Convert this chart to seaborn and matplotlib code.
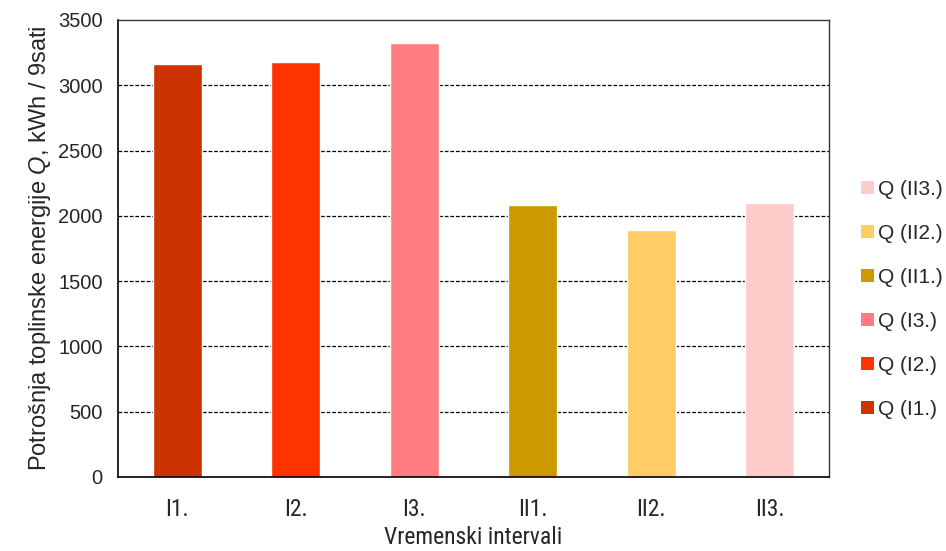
import matplotlib
matplotlib.use("Agg")
import matplotlib.pyplot as plt
import seaborn as sns
import pandas as pd
from matplotlib.patches import Patch

# Heat energy consumption per time interval (kWh per 9 hours)
categories = ["I1.", "I2.", "I3.", "II1.", "II2.", "II3."]
values = [3162, 3182, 3321, 2085, 1890, 2095]
legend_labels = ["Q (I1.)", "Q (I2.)", "Q (I3.)", "Q (II1.)", "Q (II2.)", "Q (II3.)"]
colors = ["#CC3300", "#FF3300", "#FF7C80", "#CC9900", "#FFCC66", "#FFCCCC"]
y_ticks = [0, 500, 1000, 1500, 2000, 2500, 3000, 3500]

sns.set_theme(style="white")
plt.rcParams["font.family"] = ["Liberation Sans", "DejaVu Sans"]
plt.rcParams["mathtext.fontset"] = "custom"
plt.rcParams["mathtext.it"] = "Liberation Sans:italic"
plt.rcParams["mathtext.rm"] = "Liberation Sans"

narrow = ["Roboto Condensed", "Liberation Sans", "DejaVu Sans"]

df = pd.DataFrame({"interval": categories, "Q": values})

fig = plt.figure(figsize=(9.46, 5.51), dpi=100)
ax = fig.add_axes([118 / 946, 1 - 477 / 551, (829 - 118) / 946, (477 - 20) / 551])

sns.barplot(data=df, x="interval", y="Q", hue="interval", palette=colors,
            order=categories, hue_order=categories, dodge=False,
            width=0.41, legend=False, saturation=1, ax=ax)

ax.set_xlim(-0.5, len(categories) - 0.5)
ax.set_ylim(0, 3500)
ax.set_yticks(y_ticks)
ax.set_yticklabels([str(v) for v in y_ticks], fontsize=14.5)

# dashed horizontal gridlines
for v in y_ticks[1:-1]:
    ax.axhline(v, color="black", linestyle=(0, (3, 1.5)), linewidth=0.9, zorder=0.5)
ax.set_axisbelow(True)

# category labels centred, tick marks between categories
ax.set_xticks(range(len(categories)))
ax.set_xticklabels(categories, fontsize=17, family=narrow)
ax.set_xticks([i - 0.5 for i in range(len(categories) + 1)], minor=True)
ax.tick_params(axis="x", which="major", length=0, pad=15)
ax.tick_params(axis="x", which="minor", length=6, width=1, color="black", direction="out")
ax.tick_params(axis="y", which="major", length=6, width=1, color="black", direction="out", pad=5)

for side in ["left", "bottom"]:
    ax.spines[side].set_color("black")
    ax.spines[side].set_linewidth(1.2)
for side in ["top", "right"]:
    ax.spines[side].set_visible(True)
    ax.spines[side].set_color("#333333")
    ax.spines[side].set_linewidth(1.0)

ax.set_xlabel("Vremenski intervali", fontsize=17, family=narrow, labelpad=4)
ax.set_ylabel("Potrošnja toplinske energije $Q$, kWh / 9sati", fontsize=17, labelpad=4)

# legend listed from last interval to first
handles = [Patch(facecolor=c, edgecolor="none") for c in colors][::-1]
fig.legend(handles, legend_labels[::-1], loc="upper left",
           bbox_to_anchor=(861 / 946, 1 - 180 / 551), frameon=False,
           fontsize=15, handlelength=0.63, handleheight=0.63, handletextpad=0.18,
           labelspacing=1.2, borderaxespad=0, borderpad=0)

fig.savefig("out.png", dpi=100)
